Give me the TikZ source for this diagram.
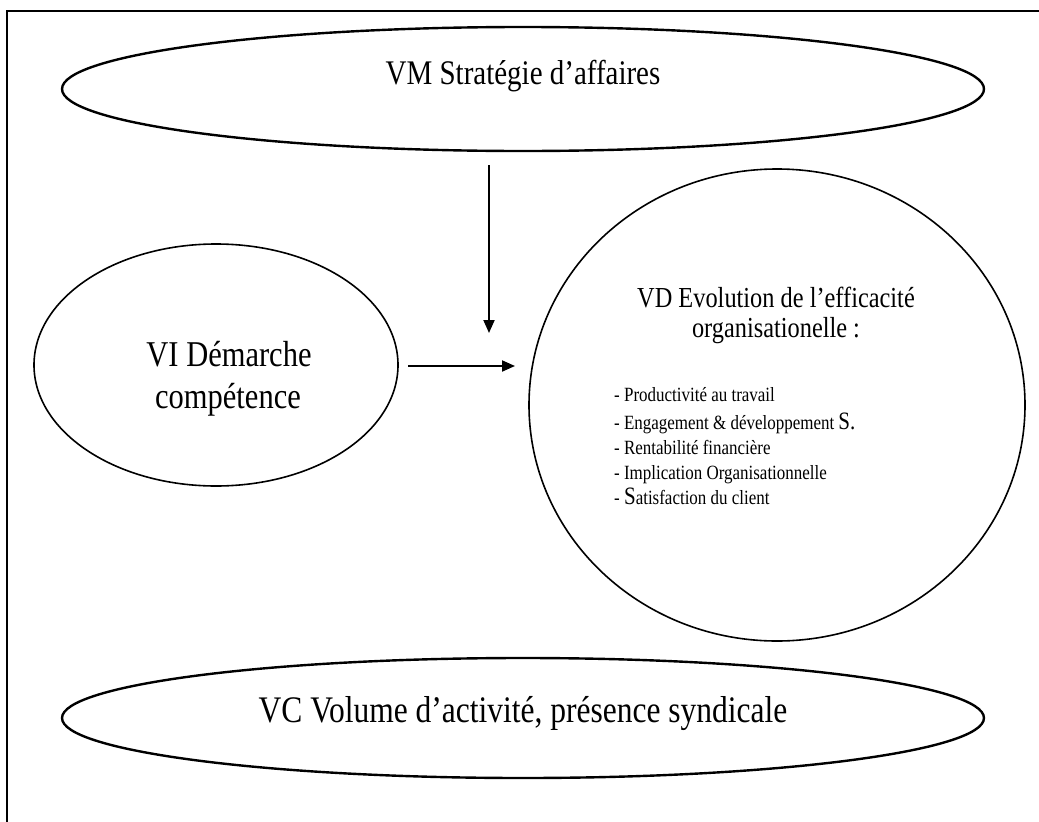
\documentclass[tikz,border=0pt]{standalone}
\usepackage{fontspec}
\setmainfont{Liberation Serif}[FakeStretch=0.84]
\usetikzlibrary{shapes.geometric,arrows.meta}
\begin{document}
\begin{tikzpicture}[x=1pt,y=-1pt,
  oval/.style={ellipse, draw, inner sep=0pt},
  heavy/.style={line width=2.4pt},
  light/.style={line width=1.6pt},
  link/.style={line width=2pt, -{Triangle[length=13pt,width=11pt]}},
  bigtxt/.style={anchor=base, inner sep=0pt, font=\fontsize{36.3}{42}\selectfont},
  midtxt/.style={anchor=base, inner sep=0pt, font=\fontsize{34.5}{40}\selectfont},
  headtxt/.style={anchor=base, inner sep=0pt, font=\fontsize{29}{34}\selectfont},
  itemtxt/.style={anchor=base west, inner sep=0pt, font=\fontsize{20.2}{24}\selectfont}]
\useasboundingbox (0,0) rectangle (1039,822);

% page frame (top and left edges)
\draw[line width=2pt] (1039,11) -- (7,11) -- (7,822);

% moderating variable
\node[oval, heavy, minimum width=922pt, minimum height=124pt] (vm) at (523,89) {};
\node[midtxt] (vmlabel) at (523,84) {VM Stratégie d’affaires};

% independent variable
\node[oval, light, minimum width=364pt, minimum height=242pt] (vi) at (216,365) {};
\node[bigtxt] (vilabel1) at (229,366) {VI Démarche};
\node[bigtxt] (vilabel2) at (228,408) {compétence};

% dependent variable
\node[oval, light, minimum width=496pt, minimum height=472pt] (vd) at (777,405) {};
\node[headtxt] (vdlabel1) at (776,307) {VD Evolution de l’efficacité};
\node[headtxt] (vdlabel2) at (776,337) {organisationelle :};
\node[itemtxt] (item1) at (614,401) {- Productivité au travail};
\node[itemtxt] (item2) at (614,429) {- Engagement \& développement {\fontsize{25}{28}\selectfont S.}};
\node[itemtxt] (item3) at (614,454) {- Rentabilité financière};
\node[itemtxt] (item4) at (614,479) {- Implication Organisationnelle};
\node[itemtxt] (item5) at (614,504) {- {\fontsize{25}{28}\selectfont S}atisfaction du client};

% control variables
\node[oval, heavy, minimum width=922pt, minimum height=120pt] (vc) at (523,718) {};
\node[midtxt, font=\fontsize{37.5}{42}\selectfont] (vclabel) at (523,722) {VC Volume d’activité, présence syndicale};

% connectors
\coordinate (vmfoot) at (489,165);
\coordinate (meet) at (489,333);
\coordinate (viout) at (408,366);
\coordinate (vdin) at (515,366);
\draw[link] (vmfoot) -- (meet);
\draw[link] (viout) -- (vdin);
\end{tikzpicture}
\end{document}
